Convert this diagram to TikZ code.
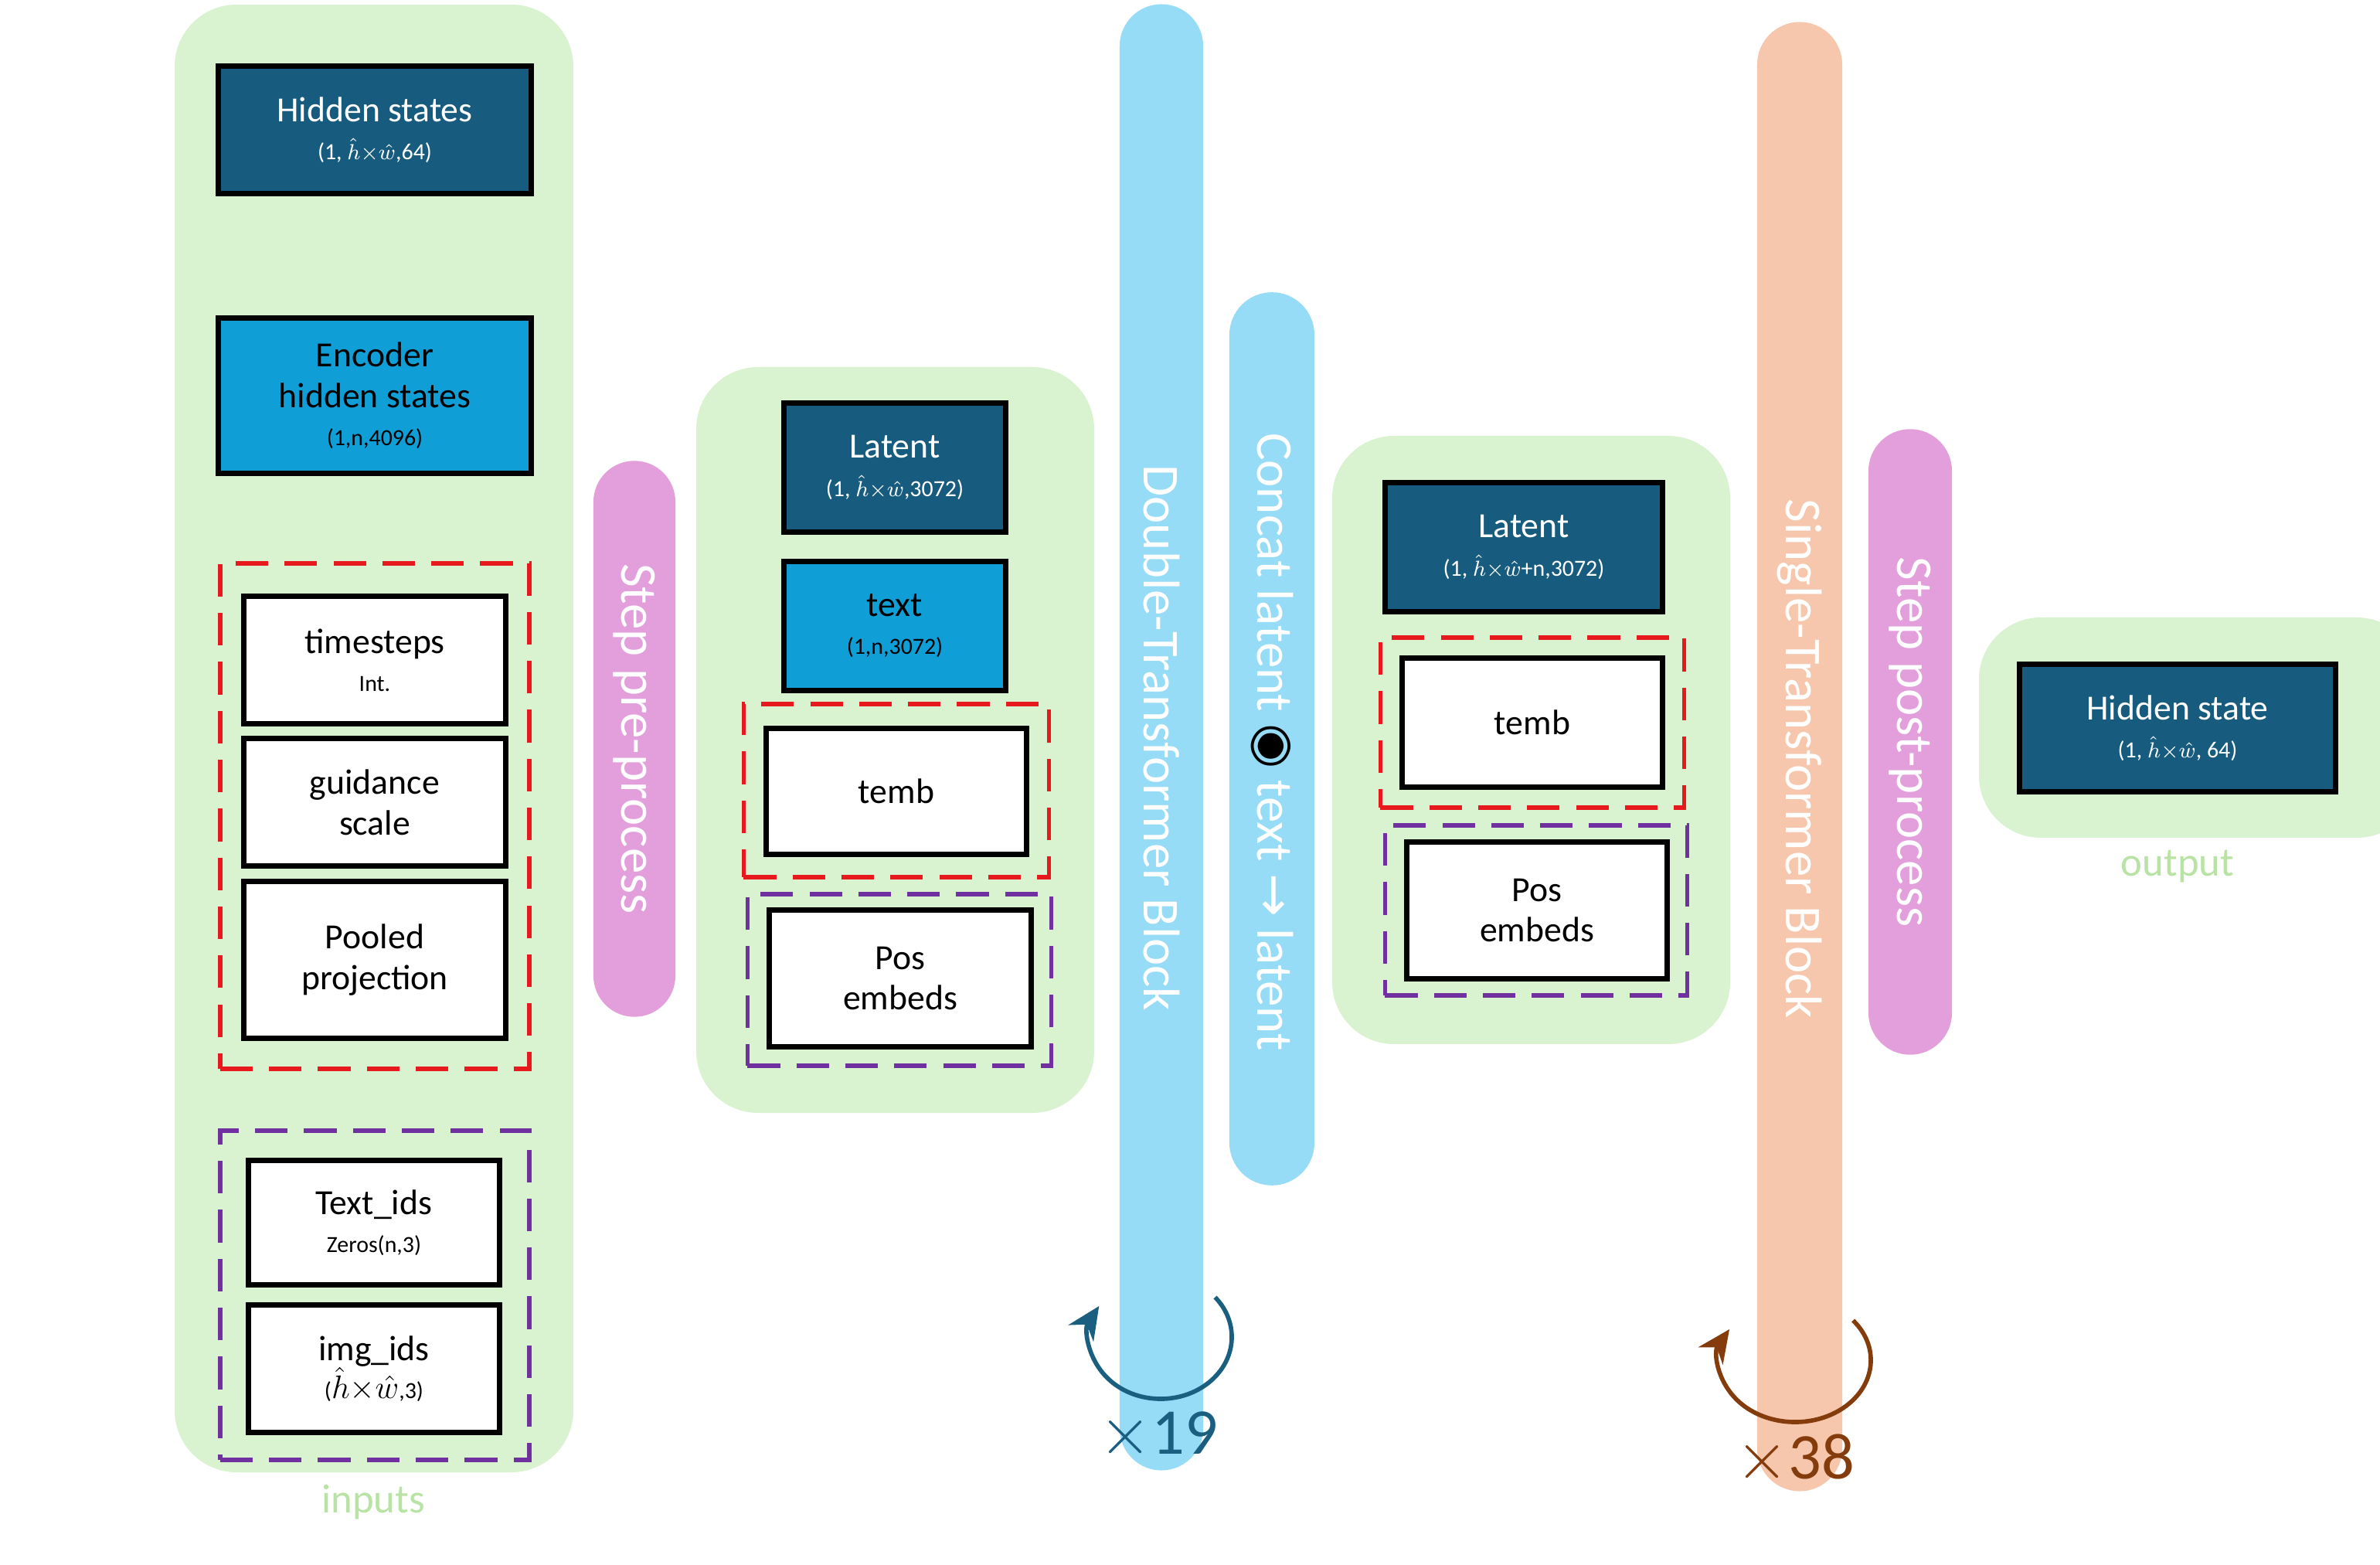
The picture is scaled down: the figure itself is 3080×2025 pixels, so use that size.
\documentclass[tikz,border=0pt]{standalone}
\usepackage{fontspec}
\usetikzlibrary{arrows.meta}
\setmainfont{Carlito}
\newfontfamily\djv{DejaVu Sans}
\begin{document}
\begin{tikzpicture}[x=0.01cm,y=-0.01cm,
  panel/.style={fill=pgreen,rounded corners=0.8cm},
  dbox/.style={draw=black,line width=2pt,fill=dblue,text=white,align=center,inner sep=0pt},
  mbox/.style={draw=black,line width=2pt,fill=mblue,text=black,align=center,inner sep=0pt},
  wbox/.style={draw=black,line width=2pt,fill=white,text=black,align=center,inner sep=0pt},
  rdash/.style={draw=dred,line width=1.6pt,dash pattern=on 12pt off 6pt,inner sep=0pt},
  pdash/.style={draw=dpurp,line width=1.6pt,dash pattern=on 12pt off 6pt,inner sep=0pt},
  big/.style={font=\fontsize{13}{15}\selectfont},
  pilltext/.style={text=white,rotate=-90,font=\fontsize{19}{21}\selectfont},
  lbl/.style={text=lgreen,font=\fontsize{15}{17}\selectfont}]
\definecolor{pgreen}{HTML}{D9F2D0}
\definecolor{dblue}{HTML}{175C7E}
\definecolor{mblue}{HTML}{109ED6}
\definecolor{dred}{HTML}{E8191C}
\definecolor{dpurp}{HTML}{7030A0}
\definecolor{pink}{HTML}{E29FDC}
\definecolor{lblue}{HTML}{97DCF7}
\definecolor{peach}{HTML}{F6C7AC}
\definecolor{loopb}{HTML}{1A5E80}
\definecolor{brown}{HTML}{843C0C}
\definecolor{lgreen}{HTML}{B8E3A4}
\newcommand{\sub}[1]{\\[-1pt]{\fontsize{8.5}{10}\selectfont #1}}
\newcommand{\hw}{$\hat{h}{\times}\hat{w}$}
\useasboundingbox (0,0) rectangle (3080,2025);
% panels
\fill[panel] (226,6) rectangle (742,1905);
\fill[panel] (901,475) rectangle (1416,1440);
\fill[panel] (1724,564) rectangle (2239,1351);
\fill[panel] (2561,799) rectangle (3130,1084);
% inputs
\node[dbox,big,minimum width=4.04cm,minimum height=1.65cm] (hs) at (485,168) {Hidden states\sub{(1, \hw,64)}};
\node[mbox,big,minimum width=4.04cm,minimum height=2.01cm] (enc) at (485,512) {Encoder\\hidden states\sub{(1,n,4096)}};
\node[rdash,minimum width=4.0cm,minimum height=6.54cm] (r1) at (485,1056) {};
\node[wbox,big,minimum width=3.38cm,minimum height=1.65cm] (ts) at (485,854) {timesteps\sub{Int.}};
\node[wbox,big,minimum width=3.38cm,minimum height=1.65cm] (gs) at (485,1038) {guidance\\scale};
\node[wbox,big,minimum width=3.38cm,minimum height=2.02cm] (pp) at (485,1242) {Pooled\\projection};
\node[pdash,minimum width=4.0cm,minimum height=4.26cm] (p1) at (485,1676) {};
\node[wbox,big,minimum width=3.24cm,minimum height=1.61cm] (ti) at (484,1582) {Text\_ids\sub{Zeros(n,3)}};
\node[wbox,big,minimum width=3.24cm,minimum height=1.65cm] (ii) at (484,1771) {img\_ids\\[-1pt]{\fontsize{8.5}{10}\selectfont(}{\fontsize{13}{15}\selectfont\hw}{\fontsize{8.5}{10}\selectfont,3)}};
\node[lbl] (inl) at (483,1944) {inputs};
% pre-process
\node[fill=pink,rounded corners=0.53cm,minimum width=1.06cm,minimum height=7.19cm,inner sep=0pt] (pre) at (821,956) {};
\node[pilltext] at (pre) {Step pre-process};
% panel 2
\node[dbox,big,minimum width=2.87cm,minimum height=1.67cm] (lat2) at (1158,605) {Latent\sub{(1, \hw,3072)}};
\node[mbox,big,minimum width=2.87cm,minimum height=1.67cm] (txt2) at (1158,810) {text\sub{(1,n,3072)}};
\node[rdash,minimum width=3.95cm,minimum height=2.24cm] (r2) at (1160,1023) {};
\node[wbox,big,minimum width=3.36cm,minimum height=1.63cm] (tm2) at (1160,1024) {temb};
\node[pdash,minimum width=3.93cm,minimum height=2.22cm] (p2) at (1164,1268) {};
\node[wbox,big,minimum width=3.38cm,minimum height=1.77cm] (pe2) at (1165,1266) {Pos\\embeds};
% double block
\node[fill=lblue,rounded corners=0.54cm,minimum width=1.08cm,minimum height=18.96cm,inner sep=0pt] (dbl) at (1503,954) {};
\node[pilltext] at (1503,955) {Double-Transformer Block};
\draw[loopb,line width=1.6pt,-{Stealth[length=12pt,width=11pt]}] (1502,1730) ++(40:0.92cm and 0.8cm) arc[start angle=40,end angle=-210,x radius=0.92cm,y radius=0.8cm];
\node[text=loopb,font=\fontsize{24}{26}\selectfont] (x19) at (1499,1858) {$\times$19};
% concat
\node[fill=lblue,rounded corners=0.55cm,minimum width=1.1cm,minimum height=11.55cm,inner sep=0pt] (cc) at (1646,956) {};
\node[pilltext] at (1646,960) {Concat latent {\djv\textcolor{black}{◉}} text {\djv→} latent};
% panel 3
\node[dbox,big,minimum width=3.59cm,minimum height=1.67cm] (lat3) at (1972,708) {Latent\sub{(1, \hw+n,3072)}};
\node[rdash,minimum width=3.93cm,minimum height=2.2cm] (r3) at (1983,935) {};
\node[wbox,big,minimum width=3.36cm,minimum height=1.67cm] (tm3) at (1983,935) {temb};
\node[pdash,minimum width=3.91cm,minimum height=2.2cm] (p3) at (1988,1178) {};
\node[wbox,big,minimum width=3.36cm,minimum height=1.77cm] (pe3) at (1989,1178) {Pos\\embeds};
% single block
\node[fill=peach,rounded corners=0.55cm,minimum width=1.1cm,minimum height=19cm,inner sep=0pt] (sgl) at (2329,979) {};
\node[pilltext] at (2329,982) {Single-Transformer Block};
\draw[brown,line width=1.6pt,-{Stealth[length=12pt,width=11pt]}] (2323,1760) ++(40:0.98cm and 0.8cm) arc[start angle=40,end angle=-210,x radius=0.98cm,y radius=0.8cm];
\node[text=brown,font=\fontsize{24}{26}\selectfont] (x38) at (2323,1888) {$\times$38};
% post-process
\node[fill=pink,rounded corners=0.54cm,minimum width=1.08cm,minimum height=8.09cm,inner sep=0pt] (post) at (2472,960) {};
\node[pilltext] at (post) {Step post-process};
% output
\node[dbox,big,minimum width=4.09cm,minimum height=1.65cm] (hso) at (2818,942) {Hidden state\sub{(1, \hw, 64)}};
\node[lbl] (outl) at (2818,1121) {output};
\end{tikzpicture}
\end{document}
